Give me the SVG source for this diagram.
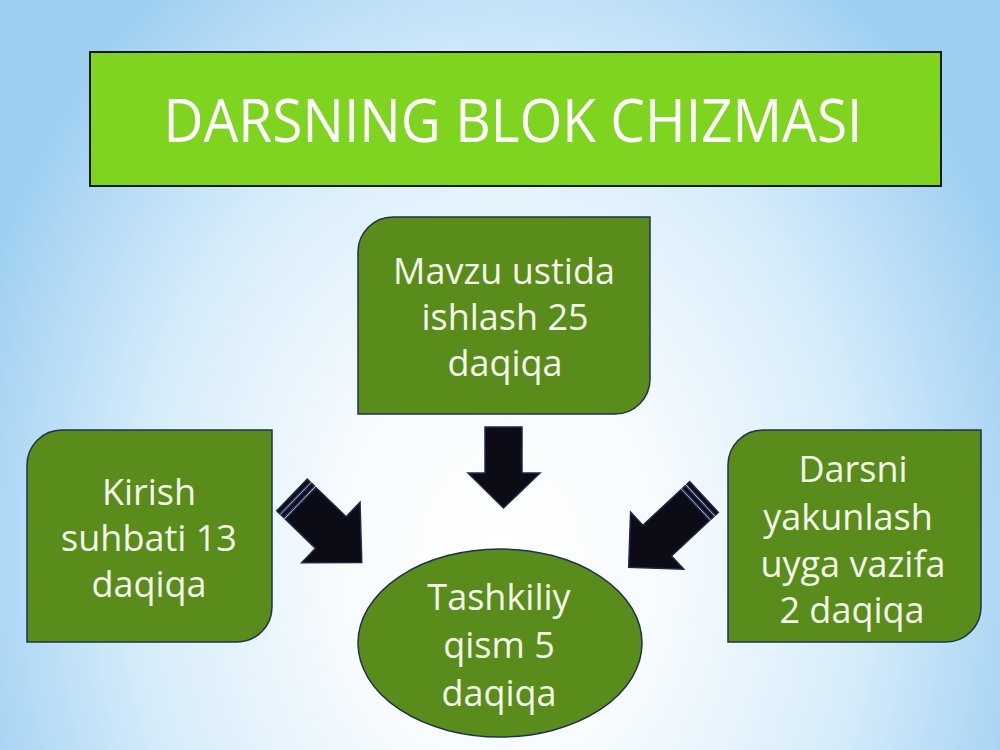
<svg xmlns="http://www.w3.org/2000/svg" width="1000" height="750" viewBox="0 0 1000 750">
  <defs>
    <radialGradient id="bg" gradientUnits="userSpaceOnUse" cx="500" cy="560" r="560" gradientTransform="translate(500 560) scale(1 1.3) translate(-500 -560)">
      <stop offset="0" stop-color="#ffffff"/>
      <stop offset="0.3" stop-color="#f6fbfe"/>
      <stop offset="0.65" stop-color="#d6ecfa"/>
      <stop offset="1" stop-color="#9dcff2"/>
    </radialGradient>
    <style>
      .title-box { fill: #7fd41f; stroke: #1a1a1a; stroke-width: 2; }
      .title-text { font-family: "Open Sans", "Liberation Sans", sans-serif; font-size: 60px; fill: #ffffff; text-anchor: middle; }
      .node { fill: #5a8c1c; stroke: #1f3050; stroke-width: 1.5; }
      .label { font-family: "Open Sans", "Liberation Sans", sans-serif; font-size: 36px; fill: #f4f8ea; text-anchor: middle; }
      .arrow { fill: #0c0c16; stroke: #1c2a4c; stroke-width: 1.5; stroke-linejoin: miter; }
    </style>
  </defs>

  <rect x="0" y="0" width="1000" height="750" fill="url(#bg)"/>

  <g id="title">
    <rect class="title-box" x="90" y="52" width="851" height="134"/>
    <text class="title-text" x="513" y="142" textLength="699" lengthAdjust="spacingAndGlyphs">DARSNING BLOK CHIZMASI</text>
  </g>

  <g id="node-mavzu">
    <path class="node" d="M393,217 H650 V379 A35,35 0 0 1 615,414 H358 V252 A35,35 0 0 1 393,217 Z"/>
    <text class="label" x="504" y="284">Mavzu ustida</text>
    <text class="label" x="505" y="330">ishlash 25</text>
    <text class="label" x="505" y="376">daqiqa</text>
  </g>

  <g id="node-kirish">
    <path class="node" d="M62,430 H272 V607 A35,35 0 0 1 237,642 H27 V465 A35,35 0 0 1 62,430 Z"/>
    <text class="label" x="149" y="505">Kirish</text>
    <text class="label" x="149" y="551">suhbati 13</text>
    <text class="label" x="149" y="597">daqiqa</text>
  </g>

  <g id="node-darsni">
    <path class="node" d="M763,430 H981 V607 A35,35 0 0 1 946,642 H728 V465 A35,35 0 0 1 763,430 Z"/>
    <text class="label" x="853" y="482">Darsni</text>
    <text class="label" x="848" y="530">yakunlash</text>
    <text class="label" x="853" y="577">uyga vazifa</text>
    <text class="label" x="852" y="623">2 daqiqa</text>
  </g>

  <g id="node-tashkiliy">
    <ellipse class="node" cx="500" cy="643" rx="142" ry="94"/>
    <text class="label" x="499" y="610">Tashkiliy</text>
    <text class="label" x="499" y="658">qism 5</text>
    <text class="label" x="499" y="706">daqiqa</text>
  </g>

  <g id="connectors">
    <path class="arrow" d="M485,427 H522 V473 H540 L503.5,508 L468,473 H485 Z"/>
    <g transform="translate(292,495) rotate(44)">
      <rect class="arrow" x="0" y="-22" width="4" height="44"/>
      <rect class="arrow" x="6" y="-22" width="4" height="44"/>
      <path class="arrow" d="M12,-22 H54 V-42 L97,0 L54,42 V22 H12 Z"/>
    </g>
    <g transform="translate(704,497) rotate(137)">
      <rect class="arrow" x="0" y="-21" width="4" height="42"/>
      <rect class="arrow" x="6" y="-21" width="4" height="42"/>
      <path class="arrow" d="M12,-21 H64 V-39 L103,0 L64,39 V21 H12 Z"/>
    </g>
  </g>
</svg>
